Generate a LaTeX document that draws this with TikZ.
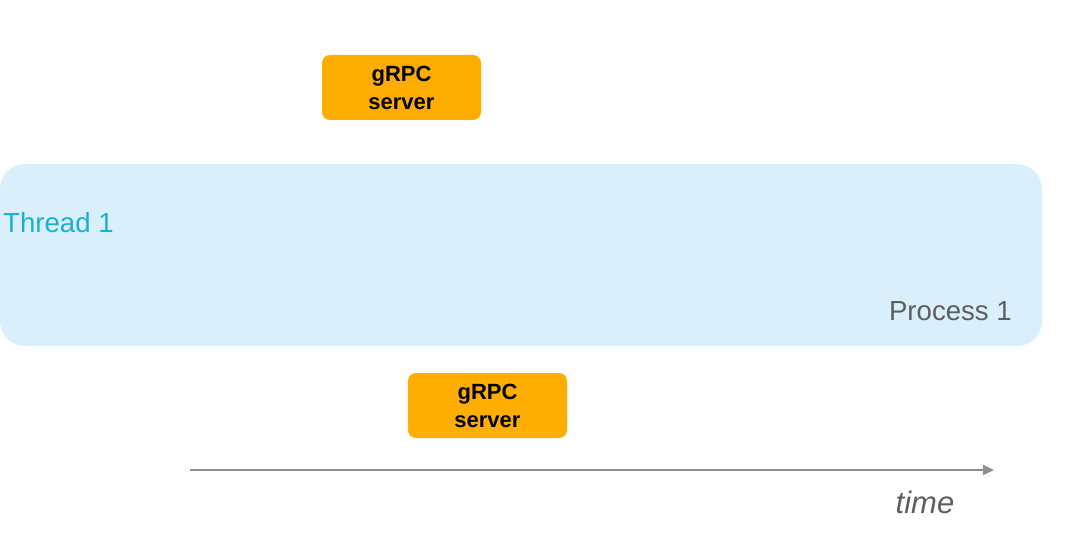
\documentclass[tikz,border=0pt]{standalone}
\usepackage{fontspec}
\setmainfont{Liberation Sans}
\usetikzlibrary{arrows.meta}
\definecolor{procfill}{HTML}{D9F0FC}
\definecolor{grpcfill}{HTML}{FFAD00}
\definecolor{threadcol}{HTML}{1AAFD8}
\definecolor{proccol}{HTML}{5E5E5E}
\definecolor{axiscol}{HTML}{8E8E8E}
\tikzset{
  grpcbox/.style={fill=grpcfill, rounded corners=8pt, minimum width=159pt, minimum height=65pt, inner sep=0pt,
    align=center, font=\fontsize{22}{28}\selectfont\bfseries, text=black},
  proc/.style={fill=procfill, rounded corners=25pt},
  axis/.style={draw=axiscol, line width=2pt, -{Triangle[length=11pt,width=10pt]}},
}
\begin{document}
\begin{tikzpicture}[x=1pt,y=-1pt]
\useasboundingbox (0,0) rectangle (1080,540);
\fill[proc] (0,164) rectangle (1042,346);
\node[anchor=base west, text=threadcol, font=\fontsize{27.6}{32}\selectfont, inner sep=0pt] (thread) at (3,233) {Thread 1};
\node[anchor=base east, text=proccol, font=\fontsize{27.6}{32}\selectfont, inner sep=0pt] (process) at (1012,320) {Process 1};
\node[grpcbox] (g1) at (401.5,87.5) {gRPC\\server};
\node[grpcbox] (g2) at (487.5,405.5) {gRPC\\server};
\coordinate (t0) at (190,470);
\coordinate (t1) at (994,470);
\draw[axis] (t0) -- (t1);
\node[anchor=base, text=proccol, font=\fontsize{31}{34}\selectfont\itshape, inner sep=0pt] (time) at (925,513) {time};
\end{tikzpicture}
\end{document}
